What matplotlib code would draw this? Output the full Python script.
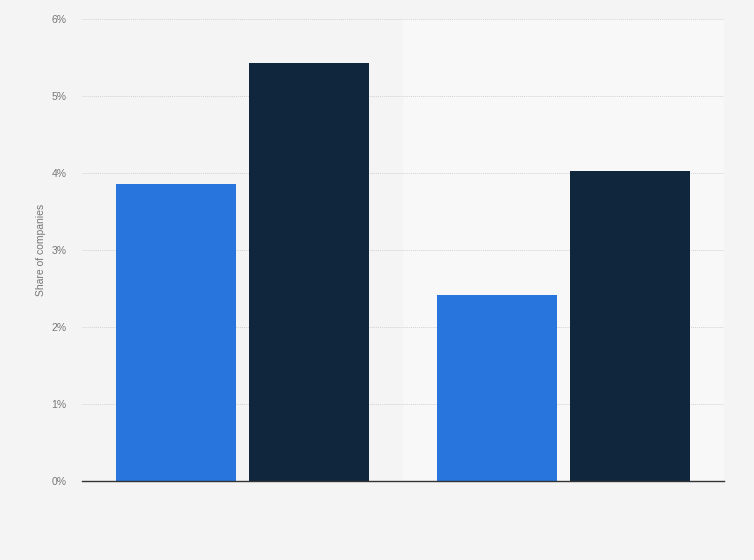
import numpy as np
import matplotlib.pyplot as plt
from matplotlib.ticker import FuncFormatter

plt.rcParams["font.family"] = ["Liberation Sans", "DejaVu Sans"]

categories = ["", ""]
series_a = [3.86, 2.42]
series_b = [5.43, 4.03]
yticks = [0, 1, 2, 3, 4, 5, 6]

W, H = 754, 560
fig = plt.figure(figsize=(W / 100, H / 100), dpi=100)
fig.patch.set_facecolor("#f4f4f4")
ax = fig.add_axes([82 / W, 1 - 481 / H, (724 - 82) / W, (481 - 19) / H])
ax.set_facecolor("#f4f4f4")

x = np.arange(len(categories))
# lighter band behind second category
ax.axvspan(0.5, 1.5, color="#f8f8f8", zorder=0, lw=0)

bw = 0.374
off = 0.207
ax.bar(x - off, series_a, bw, color="#2876dd", zorder=3)
ax.bar(x + off, series_b, bw, color="#10263d", zorder=3)

ax.set_xlim(-0.5, 1.5)
ax.set_ylim(0, 6)
ax.set_yticks(yticks)
ax.yaxis.set_major_formatter(FuncFormatter(lambda v, p: f"{v:.0f}%"))
ax.set_xticks(x)
ax.set_xticklabels(categories)
ax.tick_params(axis="both", length=0, labelsize=7.5, labelcolor="#777777")
ax.tick_params(axis="y", pad=11)
ax.grid(axis="y", color="#d2d2d2", linestyle=(0, (1, 1)), linewidth=0.7, zorder=1)

for s in ["top", "right", "left"]:
    ax.spines[s].set_visible(False)
ax.spines["bottom"].set_color("#333333")
ax.spines["bottom"].set_linewidth(1)
ax.spines["bottom"].set_zorder(4)

ax.set_ylabel("Share of companies", fontsize=7.5, color="#777777", labelpad=4)

fig.savefig("out.png", dpi=100, facecolor=fig.get_facecolor())
